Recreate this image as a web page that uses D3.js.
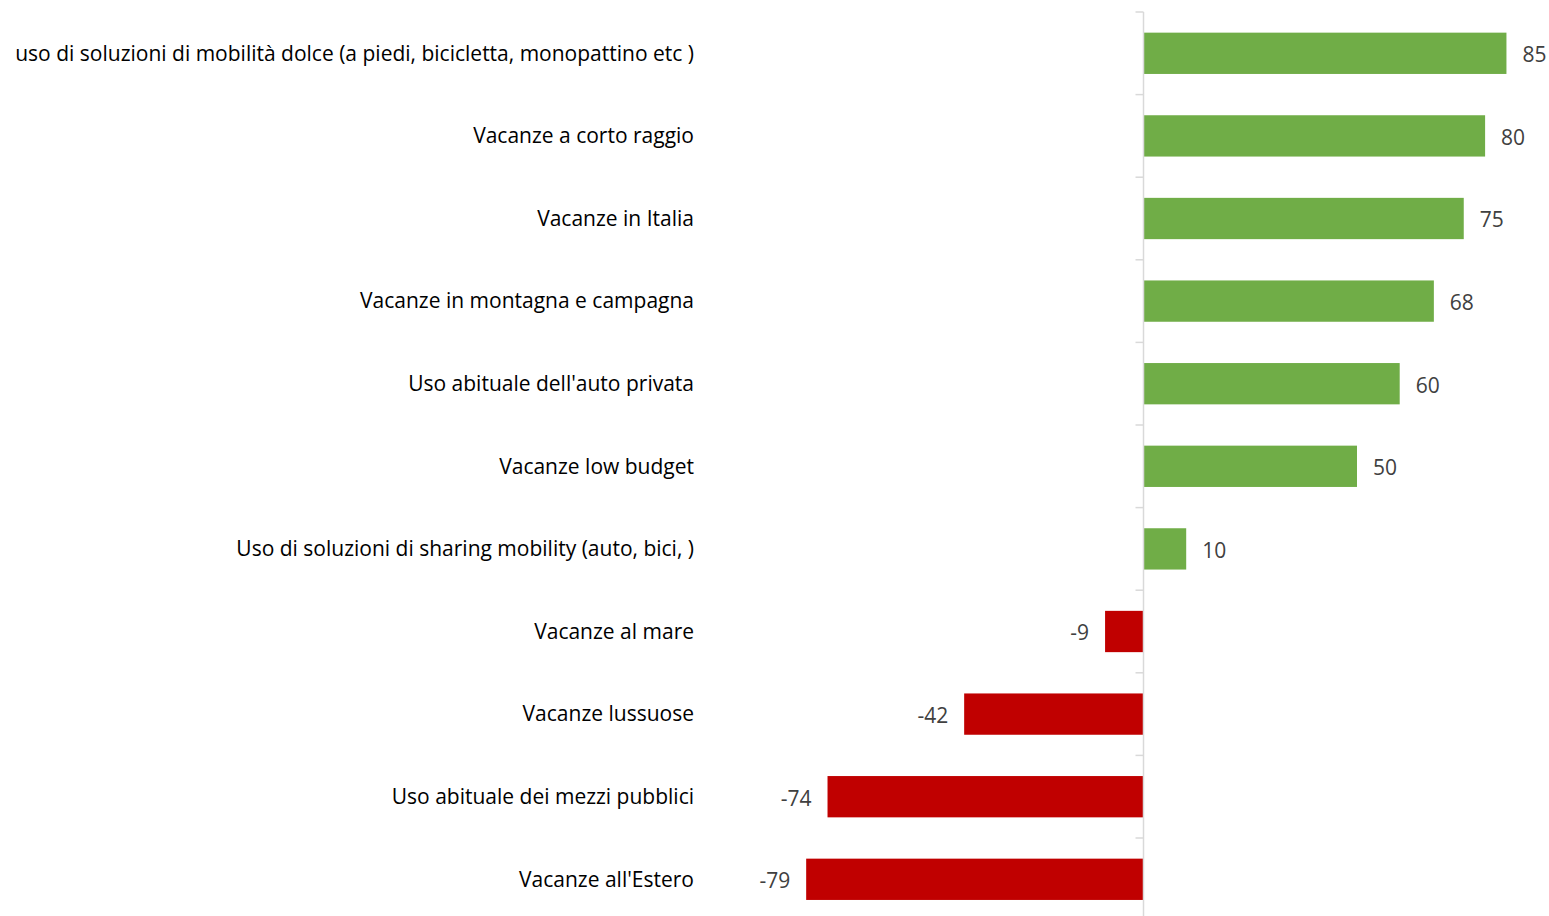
<!DOCTYPE html>
<html>
<head>
<meta charset="utf-8">
<script src="https://cdn.jsdelivr.net/npm/d3@7"></script>
<style>
  body { margin: 0; background: #fff; }
  svg text { font-family: "Open Sans", "Noto Sans", sans-serif; }
</style>
</head>
<body>
<svg width="1549" height="916"></svg>
<script>
var categories = [
	"uso di soluzioni di mobilità dolce (a piedi, bicicletta, monopattino etc )",
	"Vacanze a corto raggio",
	"Vacanze in Italia",
	"Vacanze in montagna e campagna",
	"Uso abituale dell'auto privata",
	"Vacanze low budget",
	"Uso di soluzioni di sharing mobility (auto, bici, )",
	"Vacanze al mare",
	"Vacanze lussuose",
	"Uso abituale dei mezzi pubblici",
	"Vacanze all'Estero"
];
var values = [85, 80, 75, 68, 60, 50, 10, -9, -42, -74, -79];

var svg = d3.select("svg");
var width = +svg.attr("width");
var height = +svg.attr("height");

// value scale: zero sits on the axis line
var x = d3.scaleLinear().domain([-100, 100]).range([716.5, 1570.5]);

var y = d3.scaleBand()
	.domain(categories)
	.range([12, 12 + 82.6 * categories.length])
	.paddingInner(0.5)
	.paddingOuter(0.25);

var g = svg.append("g");

// bars
g.append("g")
	.selectAll("rect")
	.data(values)
	.enter()
	.append("rect")
	.attr("x", (d) => Math.min(x(0), x(d)))
	.attr("y", (d, i) => y(categories[i]))
	.attr("width", (d) => Math.abs(x(d) - x(0)))
	.attr("height", y.bandwidth())
	.style("fill", (d) => (d >= 0 ? "#70ad47" : "#c00000"));

// vertical axis with tick marks between categories
var axis = g.append("g").attr("transform", "translate(" + x(0) + ",0)");
axis.append("line")
	.attr("y1", y.range()[0])
	.attr("y2", height)
	.style("stroke", "#d9d9d9")
	.style("stroke-width", 1.5);

var step = y.step();
axis.selectAll("line.tick")
	.data(d3.range(categories.length + 1))
	.enter()
	.append("line")
	.attr("class", "tick")
	.attr("x1", -8)
	.attr("x2", 0)
	.attr("y1", (d) => y.range()[0] + d * step)
	.attr("y2", (d) => y.range()[0] + d * step)
	.style("stroke", "#d9d9d9")
	.style("stroke-width", 1.5);

// category labels
g.append("g")
	.selectAll("text")
	.data(categories)
	.enter()
	.append("text")
	.attr("x", 694)
	.attr("y", (d) => y(d) + y.bandwidth() / 2)
	.attr("dy", "0.35em")
	.attr("text-anchor", "end")
	.style("font-size", "21px")
	.style("fill", "#000")
	.text((d) => d);

// value labels
g.append("g")
	.selectAll("text")
	.data(values)
	.enter()
	.append("text")
	.attr("x", (d) => (d >= 0 ? x(d) + 16 : x(d) - 16))
	.attr("y", (d, i) => y(categories[i]) + y.bandwidth() / 2 + 1.5)
	.attr("dy", "0.35em")
	.attr("text-anchor", (d) => (d >= 0 ? "start" : "end"))
	.style("font-size", "21px")
	.style("fill", "#404040")
	.text((d) => d);
</script>
</body>
</html>
